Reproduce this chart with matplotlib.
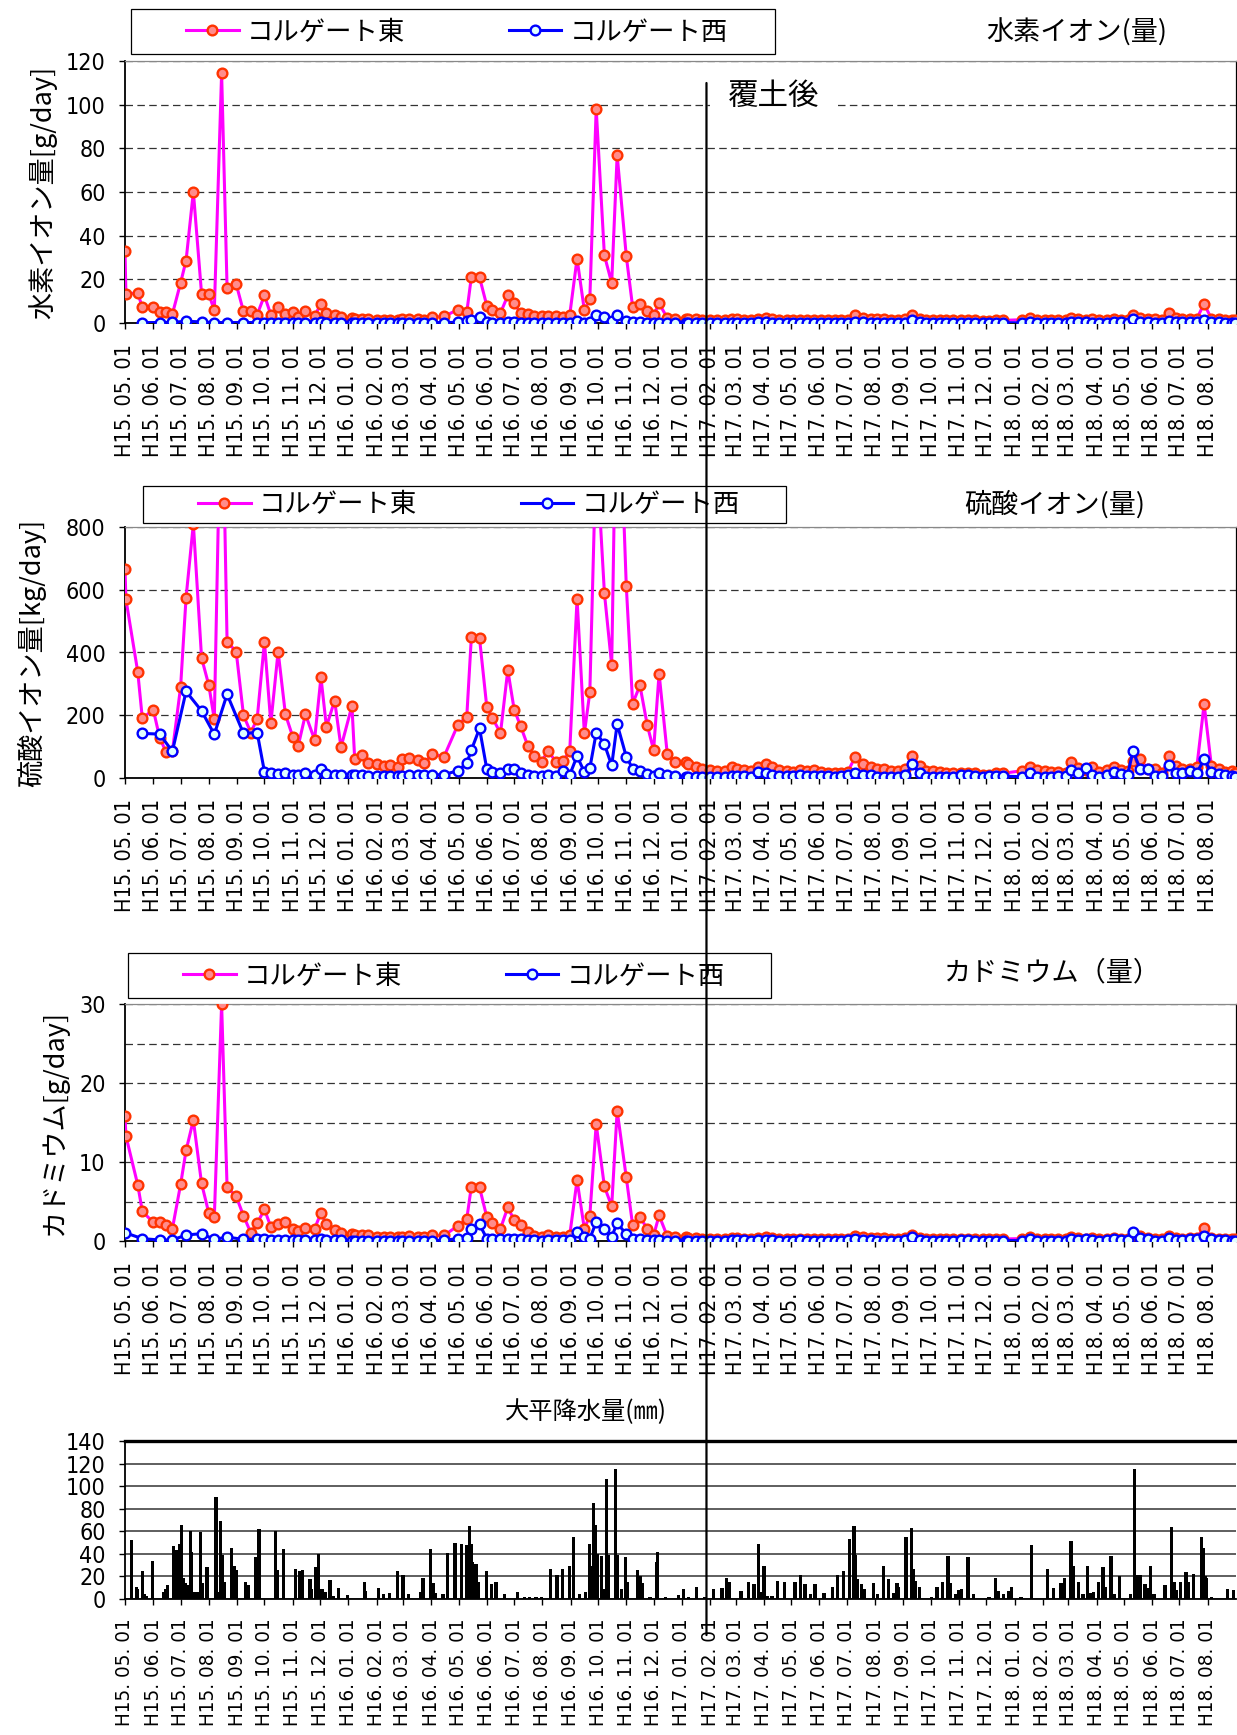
import numpy as np
import pandas as pd
import matplotlib
matplotlib.use("Agg")
import matplotlib.pyplot as plt
import matplotlib.dates as mdates
from matplotlib.patches import Rectangle, ConnectionPatch
from matplotlib.font_manager import FontProperties, fontManager
from matplotlib.textpath import TextPath

N = np.nan
START = pd.Timestamp("2003-05-01")

# ---- sampling days (days since 2003-05-01) ----
sample_day = [0, 1, 14, 19, 31, 38, 45, 52, 61, 67, 75, 84, 92, 98, 106, 112, 122, 130, 138, 145,
              153, 160, 168, 176, 184, 190, 198, 208, 215, 221, 230, 237, 249, 252, 260, 267, 277, 284, 291, 299,
              304, 312, 321, 328, 337, 350, 365, 375, 380, 389, 397, 403, 412, 420, 427, 434, 442, 449, 457, 464,
              473, 481, 488, 496, 504, 510, 517, 526, 534, 540, 550, 557, 565, 573, 580, 586, 595, 603, 615, 618,
              627, 633, 642, 649,
              658, 666, 672, 679, 687, 695, 703, 710, 718, 726, 733, 741, 748, 756, 764, 771, 779, 786, 793, 801,
              810, 818, 825, 833, 840, 848, 856, 864, 872, 879, 887, 894, 901, 909, 917, 925, 933, 941, 948, 956,
              963, 984, 993, 1001, 1009, 1016, 1024, 1032, 1038, 1046, 1054,
              1061, 1069, 1077, 1085, 1093, 1100, 1106, 1114, 1122, 1130,
              1138, 1146, 1153, 1160, 1168, 1176, 1184, 1192, 1200, 1207, 1215, 1218]

# ---- hydrogen ion load [g/day] ----
h_east = [33, 13.4, 13.7, 7.2, 7.2, 4.9, 5.0, 4.1, 18.4, 28.6, 60.1, 13.4, 13.2, 5.8, 114.5, 16, 17.8, 5.3, 5.3, 3.8,
          12.6, 3.8, 7.3, 4.3, 4.9, 2.7, 5.3, 3.3, 8.7, 4.4, 3.5, 2.7, 2.4, 2.0, 1.8, 1.8, 1.5, 1.5, 1.5, 1.3,
          1.8, 1.8, 1.8, 1.5, 2.7, 3.0, 6.1, 4.9, 21, 20.9, 7.9, 5.8, 4.6, 12.6, 9, 4.6, 4.1, 3.0, 3.0, 3.0,
          3.0, 2.7, 3.8, 29.5, 5.8, 11, 98.2, 31, 18.3, 76.9, 30.7, 7.3, 8.8, 5.3, 3.5, 9, 2.3, 2.0, 2.0, 1.8,
          1.8, 1.5, 1.5, 1.5,
          1.5, 2.0, 1.8, 1.5, 1.5, 2.0, 2.2, 1.8, 1.5, 1.5, 1.3, 1.5, 1.3, 1.5, 1.3, 1.2, 1.2, 1.2, 1.3, 3.5,
          2.5, 2.0, 1.8, 1.8, 1.5, 1.5, 1.8, 3.8, 2.0, 1.5, 1.5, 1.3, 1.2, 1.2, 1.2, 1.2, 1.2, 1.0, 1.0, 1.2,
          1.2, 1.5, 2.5, 1.5, 1.5, 1.3, 1.3, 1.2, 2.5, 1.8, 1.5,
          2.0, 1.3, 1.5, 2.0, 1.5, 1.3, 3.8, 2.5, 1.8, 1.8,
          1.2, 4.5, 2.5, 1.8, 1.8, 2.0, 8.8, 2.0, 1.8, 1.3, 1.5, 1.2]
h_west = [N, N, N, 0.2, N, 0.2, N, 0.3, N, 0.8, N, 0.5, N, 0.2, N, 0.2, N, 0.2, N, 0.2,
          0.2, 0.2, 0.2, 0.2, 0.2, 0.2, 0.2, 0.2, 0.3, 0.2, 0.2, 0.2, 0.2, 0.2, 0.2, 0.2, 0.2, 0.2, 0.2, 0.2,
          0.2, 0.2, 0.2, 0.2, 0.2, 0.2, 0.3, 0.8, 1.2, 2.6, 0.3, 0.2, 0.2, 0.3, 0.3, 0.2, 0.2, 0.2, 0.2, 0.2,
          0.2, 0.2, 0.2, 1.1, 0.2, 0.3, 3.8, 2.7, 0.8, 3.5, 0.9, 0.3, 0.3, 0.2, 0.2, 0.2, 0.2, 0.2, 0.2, 0.2,
          0.2, 0.2, 0.2, 0.2,
          0.1, 0.2, 0.2, 0.2, 0.1, 0.3, 0.3, 0.2, 0.1, 0.1, 0.1, 0.2, 0.1, 0.1, 0.1, 0.1, 0.1, 0.1, 0.2, 0.5,
          0.3, 0.2, 0.1, 0.1, 0.1, 0.1, 0.2, 1.2, 0.3, 0.1, 0.1, 0.1, 0.1, 0.1, 0.2, 0.2, 0.1, 0.1, 0.1, 0.1,
          0.1, 0.1, 0.4, 0.1, 0.1, 0.1, 0.1, 0.1, 0.5, 0.3, 0.6,
          0.2, 0.1, 0.2, 0.4, 0.3, 0.2, 2.0, 0.6, 0.6, 0.1,
          0.1, 0.8, 0.3, 0.3, 0.5, 0.3, 1.5, 0.4, 0.3, 0.2, 0.1, 0.1]

# ---- sulfate ion load [kg/day] ----
s_east = [667, 570, 338, 190, 218, 129, 83, 85, 290, 575, 810, 383, 295, 187, 1350, 434, 403, 200, 145, 188,
          434, 174, 403, 203, 132, 102, 203, 122, 321, 163, 247, 98, 230, 62, 74, 49, 45, 37, 42, 34,
          62, 64, 57, 47, 76, 68, 168, 196, 448, 445, 225, 192, 143, 344, 218, 166, 102, 70, 51, 87,
          51, 55, 87, 572, 142, 273, 1050, 590, 359, 1420, 613, 237, 295, 169, 89, 333, 76, 52, 51, 45,
          34, 30, 25, 23,
          23, 36, 30, 25, 23, 36, 45, 34, 25, 23, 19, 25, 21, 25, 19, 17, 15, 17, 20, 66,
          45, 34, 28, 30, 23, 23, 28, 70, 38, 23, 23, 19, 15, 17, 15, 17, 17, 11, 11, 15,
          15, 23, 36, 25, 23, 19, 19, 17, 51, 32, 25,
          36, 19, 25, 36, 25, 21, 55, 59, 30, 28,
          15, 70, 38, 30, 28, 34, 236, 38, 30, 19, 23, 15]
s_west = [N, N, N, 142, N, 140, N, 85, N, 276, N, 214, N, 139, N, 267, N, 142, N, 145,
          20, 15, 14, 15, 11, 8, 15, 10, 30, 13, 11, 8, 8, 8, 8, 7, 7, 6, 7, 7,
          7, 8, 8, 8, 10, 11, 23, 47, 89, 158, 28, 18, 16, 30, 28, 16, 10, 7, 7, 10,
          7, 21, 10, 70, 19, 31, 144, 108, 40, 172, 68, 30, 21, 12, 7, 17, 8, 7, 3, 4,
          4, 4, 4, 4,
          4, 7, 6, 6, 4, 18, 15, 11, 6, 6, 7, 8, 7, 6, 6, 6, 4, 6, 9, 17,
          11, 11, 4, 4, 4, 4, 8, 44, 15, 2, 4, 4, 2, 4, 8, 8, 6, 4, 6, 6,
          6, 4, 17, 4, 4, 4, 6, 6, 25, 15, 32,
          8, 4, 11, 19, 13, 11, 85, 28, 30, 6,
          6, 40, 15, 15, 23, 17, 59, 19, 13, 11, 6, 4]

# ---- cadmium load [g/day] ----
cd_east = [15.8, 13.3, 7.1, 3.75, 2.36, 2.36, 2.06, 1.56, 7.16, 11.46, 15.3, 7.3, 3.5, 3.03, 30, 6.8, 5.65, 3.2, 1.05, 2.23,
           4.0, 1.8, 2.2, 2.44, 1.56, 1.3, 1.7, 1.56, 3.54, 2.1, 1.4, 1.05, 0.84, 0.7, 0.7, 0.7, 0.5, 0.5, 0.5, 0.5,
           0.5, 0.6, 0.5, 0.5, 0.7, 0.7, 1.9, 2.8, 6.87, 6.78, 3.03, 2.3, 1.56, 4.26, 2.65, 2.06, 1.14, 0.67, 0.5, 0.76,
           0.5, 0.5, 0.76, 7.7, 1.56, 3.2, 14.8, 6.9, 4.4, 16.5, 8.05, 2.0, 3.03, 1.56, 0.7, 3.24, 0.6, 0.5, 0.5, 0.4,
           0.4, 0.3, 0.3, 0.3,
           0.3, 0.4, 0.35, 0.3, 0.3, 0.4, 0.45, 0.4, 0.3, 0.3, 0.3, 0.3, 0.3, 0.3, 0.3, 0.25, 0.25, 0.25, 0.3, 0.6,
           0.45, 0.4, 0.35, 0.35, 0.3, 0.3, 0.35, 0.8, 0.4, 0.3, 0.3, 0.3, 0.25, 0.25, 0.25, 0.25, 0.25, 0.2, 0.2, 0.25,
           0.25, 0.3, 0.45, 0.3, 0.3, 0.3, 0.3, 0.25, 0.5, 0.35, 0.3,
           0.4, 0.3, 0.3, 0.4, 0.3, 0.3, 0.7, 0.6, 0.35, 0.3,
           0.25, 0.6, 0.4, 0.3, 0.35, 0.4, 1.7, 0.4, 0.3, 0.25, 0.25, 0.2]
cd_west = [1.05, N, N, 0.3, N, 0.13, N, 0.13, N, 0.76, N, 0.93, N, 0.2, N, 0.5, N, 0.2, N, 0.2,
           0.3, 0.13, 0.13, 0.13, 0.13, 0.13, 0.13, 0.13, 0.3, 0.13, 0.13, 0.13, 0.05, 0.05, 0.05, 0.05, 0.05, 0.05, 0.05, 0.05,
           0.05, 0.05, 0.05, 0.05, 0.05, 0.1, 0.3, 0.42, 1.47, 2.1, 0.3, 0.2, 0.2, 0.3, 0.3, 0.2, 0.13, 0.13, 0.05, 0.13,
           0.1, 0.13, 0.13, 1.14, 0.5, 0.3, 2.4, 1.47, 0.5, 2.3, 0.84, 0.3, 0.3, 0.13, 0.13, 0.13, 0.05, 0.05, 0.05, 0.05,
           0.05, 0.05, 0.05, 0.05,
           0.05, 0.1, 0.1, 0.1, 0.05, 0.15, 0.15, 0.1, 0.05, 0.05, 0.05, 0.1, 0.05, 0.05, 0.05, 0.05, 0.05, 0.05, 0.1, 0.3,
           0.15, 0.1, 0.05, 0.05, 0.05, 0.05, 0.1, 0.5, 0.15, 0.0, 0.05, 0.05, 0.05, 0.05, 0.1, 0.1, 0.05, 0.05, 0.05, 0.05,
           0.05, 0.05, 0.2, 0.05, 0.05, 0.05, 0.05, 0.05, 0.2, 0.15, 0.3,
           0.1, 0.05, 0.1, 0.2, 0.15, 0.1, 1.2, 0.4, 0.3, 0.05,
           0.05, 0.35, 0.15, 0.15, 0.25, 0.2, 0.6, 0.2, 0.15, 0.1, 0.05, 0.05]

# ---- daily precipitation at Ohira [mm] (days since 2003-05-01) ----
rain_day = [7, 13, 14, 19, 21, 23, 30, 42, 45, 47, 53, 56, 60, 62, 64, 66, 68, 72, 73, 76,
            79, 83, 85, 90, 100, 102, 105, 107, 109, 117, 120, 122, 132, 135, 143, 147, 165, 167, 174, 187,
            192, 195, 203, 205, 209, 212, 216, 220, 225, 229, 234, 244, 263, 264, 278, 284, 290, 299, 305, 311,
            324, 327, 335, 338, 341, 349, 354, 362, 369, 375, 378, 380, 381, 385, 388, 397, 402, 407, 416, 431,
            438, 444, 451, 457, 467, 474, 480, 488, 492, 499, 505, 510, 512, 514, 516, 518, 523, 525, 528, 530,
            538, 540, 545, 549, 551, 562, 565, 568, 576, 583, 584, 593, 607, 613, 618, 627, 636, 646,
            655, 660, 663, 676, 684, 690, 695, 697, 701, 705, 710, 716, 724, 735, 741, 746, 752, 757, 767, 776,
            782, 788, 795, 800, 801, 804, 808, 811, 821, 826, 832, 838, 843, 847, 849, 857, 863, 865, 867, 872,
            885, 891, 897, 903, 906, 911, 915, 918, 925, 931, 948, 955, 958, 964, 969, 973, 983, 995, 1012, 1019,
            1027, 1031, 1038, 1041, 1046, 1051, 1056, 1060, 1063, 1068, 1073, 1076, 1082, 1086, 1091, 1103, 1108, 1111, 1114, 1119,
            1122, 1125, 1129, 1141, 1148, 1151, 1154, 1158, 1164, 1167, 1172, 1181, 1183, 1185, 1187, 1192, 1210, 1216]
rain_mm = [52, 11, 9, 25, 4, 3, 34, 6.5, 9, 12, 47, 43, 49, 66, 19, 14, 12, 60, 42, 6,
           6, 59, 14, 28, 90, 6, 69, 39, 15, 45, 29, 26, 15, 12, 37, 62, 60, 26, 44, 27,
           25, 26, 18, 9, 28, 40, 9, 6.5, 17, 3, 10, 3.5, 15, 7, 10, 4, 5, 25, 21, 4,
           6, 19, 44, 14, 5, 4, 41, 50, 49, 48, 65, 49, 33, 31, 15, 25, 13, 15, 4, 6,
           2, 2, 2, 2, 26.5, 21, 27, 29, 55, 4, 6, 49, 29, 85, 66, 40, 38, 9, 106, 39,
           115, 39, 9, 37, 15, 26, 20, 14, 2, 33, 41.5, 2, 3.5, 9, 2, 11, 2, 9,
           10, 18.5, 15, 7, 15, 13, 49, 6, 29, 3, 3, 16, 15, 15, 21, 13, 4, 13, 5, 11,
           21, 25, 53, 65, 39, 18, 13, 9, 14, 4, 29, 18, 5, 14, 11, 55, 63, 27, 16, 11,
           2, 11, 15, 38, 14, 4, 8, 9, 37, 4, 2, 19, 7, 4, 7, 11, 2, 48, 27, 10,
           14, 19, 51, 29, 15, 4, 29, 5, 6, 15, 28, 11, 38, 4, 20, 4, 115.5, 21, 21, 13,
           10, 29, 4, 12, 64, 15, 8, 15, 24, 15, 22, 55, 45, 20, 19, 2, 9, 8]

cover_date = "2005-01-28"   # 覆土 (soil cover) date
x_start, x_end = "2003-05-01", "2006-09-01"
tick_months = pd.date_range("2003-05-01", "2006-08-01", freq="MS")
tick_labels = [f"H{d.year - 1988}. {d.month:02d}. 01" for d in tick_months]

legend_labels = ["コルゲート東", "コルゲート西"]

# ---------------------------------------------------------------
W, H = 1237, 1735
fig = plt.figure(figsize=(W / 100, H / 100), dpi=100)
fig.patch.set_facecolor("white")

JP = "Noto Sans CJK JP"

# choose the narrowest available sans for numbers, and size it to the reference widths
entries = fontManager.ttflist
names = {f.name for f in entries}
num_font = dict(family="Liberation Sans")
if "Liberation Sans Narrow" in names:
    num_font = dict(family="Liberation Sans Narrow")
elif any(f.name == "DejaVu Sans" and "condensed" in str(f.stretch) for f in entries):
    num_font = dict(family="DejaVu Sans", stretch="condensed")
elif "Liberation Sans" not in names:
    num_font = dict(family="DejaVu Sans")


def ink_width_px(s, size, **kw):
    tp = TextPath((0, 0), s, prop=FontProperties(size=size, **kw))
    return tp.get_extents().width * 100 / 72


xt_size = min(18.0, 18.0 * 110 / ink_width_px("H15. 05. 01", 18, **num_font))
xt_rain_size = min(18.0, 18.0 * 104 / ink_width_px("H15. 05. 01", 18, **num_font))
yt_size = min(18.0, 18.0 * 36 / ink_width_px("120", 18, **num_font))
XT = FontProperties(size=xt_size, **num_font)
XT_RAIN = FontProperties(size=xt_rain_size, **num_font)
YT = FontProperties(size=yt_size, **num_font)

plt.rcParams["font.family"] = [num_font["family"], JP, "DejaVu Sans"]

dates = START + pd.to_timedelta(sample_day, unit="D")
rdates = START + pd.to_timedelta(rain_day, unit="D")


def fig_rect(top, bottom, left=125, right=1236):
    return [left / W, 1 - bottom / H, (right - left) / W, (bottom - top) / H]


def set_axes_ticks(ax, xfont=XT, xpad=11):
    ax.set_xlim(pd.Timestamp(x_start), pd.Timestamp(x_end))
    ax.set_xticks(tick_months)
    ax.set_xticklabels(tick_labels, rotation=90)
    for t in ax.get_xticklabels():
        t.set_fontproperties(xfont)
    for t in ax.get_yticklabels():
        t.set_fontproperties(YT)
    ax.tick_params(axis="x", direction="out", length=4, width=1, pad=xpad)
    ax.tick_params(axis="y", direction="out", length=4, width=1, pad=10)


def wq_panel(rect, east, west, ymax, step, grid_step, ylabel, label_x):
    ax = fig.add_axes(rect)
    east = np.array(east, dtype=float)
    west = np.array(west, dtype=float)
    le, = ax.plot(dates, east, color="#FF00FF", lw=2.2, marker="o", ms=7.0,
                  mfc="#FF8C8C", mec="#FF3300", mew=1.7, zorder=3)
    m = ~np.isnan(west)
    lw_, = ax.plot(dates[m], west[m], color="#0000FF", lw=2.2, marker="o", ms=7.0,
                   mfc="#E0FFFF", mec="#0000FF", mew=1.7, zorder=4)
    ax.set_ylim(0, ymax)
    ax.set_yticks(np.arange(0, ymax + 0.1, step))
    ax.set_yticks(np.arange(0, ymax + 0.1, grid_step), minor=True)
    ax.tick_params(axis="y", which="minor", length=0)
    ax.grid(True, axis="y", which="both", ls=(0, (6, 3.5)), color="#333333", lw=0.9, zorder=1)
    ax.set_axisbelow(True)
    for s in ["left", "bottom"]:
        ax.spines[s].set_linewidth(1.3)
        ax.spines[s].set_color("black")
    ax.spines["right"].set_linewidth(0.9)
    ax.spines["top"].set_color("#888888")
    ax.spines["top"].set_linewidth(0.9)
    set_axes_ticks(ax)
    ax.set_ylabel(ylabel, fontfamily=JP, fontsize=19.5)
    ax.yaxis.set_label_coords(label_x, 0.5)
    return ax, le, lw_


def add_legend(handles, box, handle_x, y_c):
    x0, y0, x1, y1 = box
    fig.add_artist(Rectangle((x0 / W, 1 - y1 / H), (x1 - x0) / W, (y1 - y0) / H,
                             transform=fig.transFigure, fc="white", ec="black", lw=0.9, zorder=5))
    leg = fig.legend(handles, legend_labels, loc="center left",
                     bbox_to_anchor=(handle_x / W, 1 - y_c / H), ncol=2, frameon=False,
                     borderpad=0, borderaxespad=0, handlelength=2.0, handletextpad=0.3,
                     columnspacing=3.93, prop=FontProperties(family=JP, size=19))
    leg.set_zorder(6)


ax1, e1, w1 = wq_panel(fig_rect(61, 323), h_east, h_west, 120, 20, 20, "水素イオン量[g/day]", -0.061)
ax2, e2, w2 = wq_panel(fig_rect(527, 778), s_east, s_west, 800, 200, 200, "硫酸イオン量[kg/day]", -0.071)
ax3, e3, w3 = wq_panel(fig_rect(1004, 1241), cd_east, cd_west, 30, 10, 5, "カドミウム[g/day]", -0.051)

ax1.text(0.584, 0.863, "覆土後", transform=ax1.transAxes, ha="center", va="center",
         fontfamily=JP, fontsize=22, zorder=6,
         bbox=dict(boxstyle="square,pad=0.6", fc="white", ec="none"))

add_legend([e1, w1], (131, 9, 775, 54), 186, 32)
add_legend([e2, w2], (143, 486, 786, 523), 198, 505)
add_legend([e3, w3], (128, 953, 771, 998), 183, 976)

fig.text(1077 / W, 1 - 33 / H, "水素イオン(量)", ha="center", va="center", fontfamily=JP, fontsize=19.5)
fig.text(1055 / W, 1 - 505 / H, "硫酸イオン(量)", ha="center", va="center", fontfamily=JP, fontsize=19.5)
fig.text(1052 / W, 1 - 973 / H, "カドミウム（量）", ha="center", va="center", fontfamily=JP, fontsize=19.5)
fig.text(586 / W, 1 - 1412 / H, "大平降水量(㎜)", ha="center", va="center", fontfamily=[JP, "DejaVu Sans"], fontsize=17.5)

# ---- precipitation panel ----
ax4 = fig.add_axes(fig_rect(1441, 1599))
ax4.bar(rdates, rain_mm, width=3.6, color="black", lw=0, zorder=3)
ax4.set_ylim(0, 140)
ax4.set_yticks(np.arange(0, 141, 20))
ax4.grid(True, axis="y", ls="-", color="#333333", lw=1.1, zorder=1)
ax4.set_axisbelow(True)
ax4.spines["right"].set_visible(False)
ax4.spines["top"].set_linewidth(2.4)
ax4.spines["left"].set_linewidth(1.3)
ax4.spines["bottom"].set_linewidth(1.3)
set_axes_ticks(ax4, xfont=XT_RAIN, xpad=10)

# ---- vertical line marking the soil-cover date ----
xc = mdates.date2num(pd.Timestamp(cover_date))
con = ConnectionPatch(xyA=(xc, 0.916), coordsA=ax1.get_xaxis_transform(),
                      xyB=(xc, -0.228), coordsB=ax4.get_xaxis_transform(),
                      color="black", lw=1.6, zorder=20)
fig.add_artist(con)

fig.savefig("out.png", dpi=100, facecolor="white")
